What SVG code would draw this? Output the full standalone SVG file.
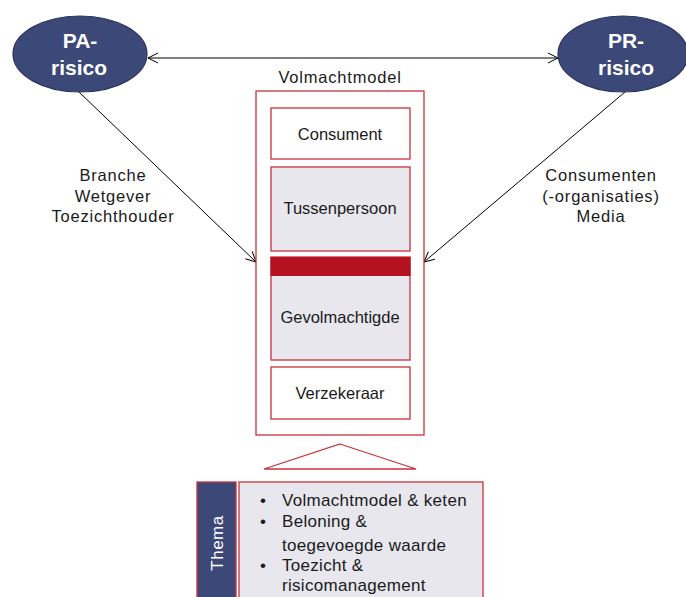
<svg xmlns="http://www.w3.org/2000/svg" width="686" height="597" viewBox="0 0 686 597">
<defs>
<style>
.t{font-family:"Liberation Sans",Arial,sans-serif;fill:#1a1a1a;text-anchor:middle}
.lb{font-size:16.5px;letter-spacing:0.8px}
.bt{font-size:16.5px}
.ell{fill:#3C4877;stroke:#2B355E;stroke-width:1.2}
.et{font-family:"Liberation Sans",Arial,sans-serif;font-weight:bold;font-size:21px;fill:#fff;text-anchor:middle}
.box{fill:#fff;stroke:#C8323C;stroke-width:1.3}
.gbox{fill:#E8E7EE;stroke:#C8323C;stroke-width:1.3}
.con{stroke:#000;stroke-width:1;fill:none}
</style>
<marker id="ah" viewBox="0 0 12 12" refX="11" refY="6" markerWidth="12" markerHeight="12" markerUnits="userSpaceOnUse" orient="auto-start-reverse">
<path d="M1,1 L11,6 L1,11" fill="none" stroke="#000" stroke-width="1"/>
</marker>
</defs>
<rect width="686" height="597" fill="#fff"/>
<g id="connectors">
<line class="con" x1="148" y1="58" x2="558" y2="58" marker-start="url(#ah)" marker-end="url(#ah)"/>
<line class="con" x1="79" y1="92" x2="256" y2="262" marker-end="url(#ah)"/>
<line class="con" x1="625" y1="92" x2="424" y2="262" marker-end="url(#ah)"/>
</g>
<g id="pa">
<ellipse class="ell" cx="80" cy="54" rx="67" ry="38"/>
<text class="et" x="80" y="48">PA-</text>
<text class="et" x="79" y="75">risico</text>
</g>
<g id="pr">
<ellipse class="ell" cx="623" cy="54" rx="65" ry="38"/>
<text class="et" x="626" y="48">PR-</text>
<text class="et" x="626" y="75">risico</text>
</g>
<g id="left-label">
<text class="t lb" x="113" y="181">Branche</text>
<text class="t lb" x="113" y="202">Wetgever</text>
<text class="t lb" x="113" y="222">Toezichthouder</text>
</g>
<g id="right-label">
<text class="t lb" x="601" y="181">Consumenten</text>
<text class="t lb" x="601" y="202">(-organisaties)</text>
<text class="t lb" x="601" y="222">Media</text>
</g>
<g id="volmachtmodel">
<text class="t lb" x="340" y="83">Volmachtmodel</text>
<rect class="box" x="256" y="91" width="168" height="344"/>
</g>
<g id="consument">
<rect class="box" x="271" y="108" width="139" height="51"/>
<text class="t bt" x="340" y="140">Consument</text>
</g>
<g id="tussenpersoon">
<rect class="gbox" x="271" y="167" width="139" height="84"/>
<text class="t bt" x="340" y="214">Tussenpersoon</text>
</g>
<g id="gevolmachtigde">
<rect class="gbox" x="271" y="257" width="139" height="103"/>
<rect x="270.5" y="257" width="140" height="19" fill="#B5121F"/>
<text class="t bt" x="340" y="323">Gevolmachtigde</text>
</g>
<g id="verzekeraar">
<rect class="box" x="271" y="367" width="139" height="52"/>
<text class="t bt" x="340" y="399">Verzekeraar</text>
</g>
<g id="triangle">
<polygon points="340,444 416,469 264,469" fill="#fff" stroke="#C8323C" stroke-width="1.3"/>
</g>
<g id="thema">
<rect x="197" y="482" width="39" height="120" fill="#3C4877" stroke="#C8323C" stroke-width="1.3"/>
<text font-family="Liberation Sans, Arial, sans-serif" font-size="17" letter-spacing="0.5" fill="#fff" text-anchor="middle" transform="translate(223,543) rotate(-90)">Thema</text>
</g>
<g id="themes">
<rect class="gbox" x="239" y="482" width="244" height="120"/>
<g font-family="Liberation Sans, Arial, sans-serif" font-size="17" letter-spacing="0.3" fill="#1a1a1a">
<text x="260" y="506">•</text><text x="282" y="506">Volmachtmodel &amp; keten</text>
<text x="260" y="527">•</text><text x="282" y="527">Beloning  &amp;</text>
<text x="282" y="551">toegevoegde waarde</text>
<text x="260" y="571">•</text><text x="282" y="571">Toezicht &amp;</text>
<text x="282" y="591">risicomanagement</text>
</g>
</g>
</svg>
